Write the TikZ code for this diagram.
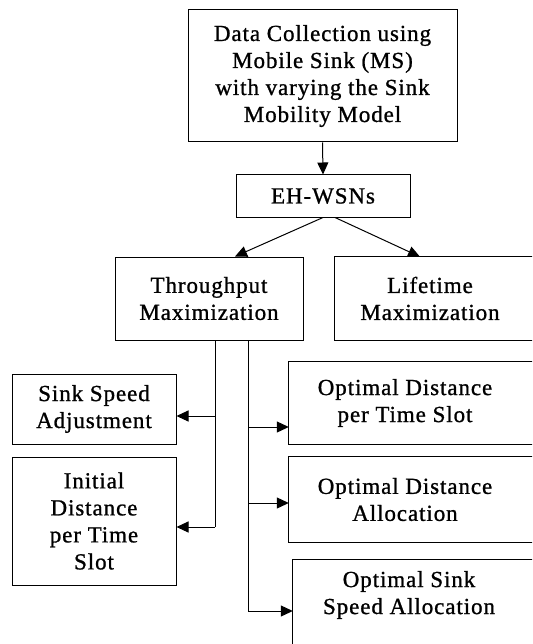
\documentclass[tikz,border=0pt]{standalone}
\usepackage{fontspec}
\setmainfont{Liberation Serif}[LetterSpace=4,FakeBold=1]
\usetikzlibrary{arrows.meta}

\begin{document}
\begin{tikzpicture}[
    x=1pt, y=-1pt,
    font=\fontsize{23}{27}\selectfont,
    box/.style={draw, line width=1pt, align=center, inner sep=0pt},
    openbox/.style={align=center, inner sep=0pt},
    ln/.style={line width=1pt},
    arr/.style={line width=1pt, -{Triangle[length=12pt,width=11pt]}}
]
\useasboundingbox (0,0) rectangle (532,644);
\clip (0,0) rectangle (532,644);


\node[box, minimum width=269pt, minimum height=132pt] (dc) at (322.5,76)
    {Data Collection using\\Mobile Sink (MS)\\with varying the Sink\\Mobility Model};

\node[box, minimum width=174pt, minimum height=42pt] (eh) at (323,196) {EH-WSNs};

\node[box, minimum width=188pt, minimum height=83pt] (thr) at (209,298.5)
    {Throughput\\Maximization};

\node[openbox, minimum width=190pt, minimum height=83pt] (life) at (430,298.5)
    {Lifetime\\Maximization};


\node[box, minimum width=164pt, minimum height=70pt] (ssa) at (94,409)
    {Sink Speed\\Adjustment};

\node[box, minimum width=164pt, minimum height=128pt] (idt) at (94,521)
    {Initial\\Distance\\per Time\\Slot};


\node[openbox, minimum width=232pt, minimum height=82pt] (odt) at (405,403)
    {Optimal Distance\\per Time Slot};

\node[openbox, minimum width=232pt, minimum height=85pt] (oda) at (405,499.5)
    {Optimal Distance\\Allocation};

\node[openbox, minimum width=232pt, minimum height=70pt] (oss) at (409,595)
    {Optimal Sink\\Speed Allocation};

\foreach \n in {life,odt,oda}
    \draw[ln] (\n.north west) rectangle ([xshift=60pt]\n.south east);
\draw[ln] (oss.north west) rectangle ([xshift=60pt,yshift=-60pt]oss.south east);


\draw[arr] (dc.south) -- (eh.north);
\draw[arr] (eh.south) -- ([xshift=26pt]thr.north);
\draw[arr] ([xshift=12pt]eh.south) -- ([xshift=-10pt]life.north);


\coordinate (l1) at (215,416);
\coordinate (l2) at (215,527);
\draw[ln] ([xshift=6pt]thr.south) -- (l2);
\draw[arr] (l1) -- (l1 -| ssa.east);
\draw[arr] (l2) -- (l2 -| idt.east);


\coordinate (r1) at (248,427);
\coordinate (r2) at (248,503);
\coordinate (r3) at (248,611);
\draw[ln] ([xshift=39pt]thr.south) -- (r3);
\draw[arr] (r1) -- (r1 -| odt.west);
\draw[arr] (r2) -- (r2 -| oda.west);
\draw[arr] (r3) -- (r3 -| oss.west);

\end{tikzpicture}
\end{document}
